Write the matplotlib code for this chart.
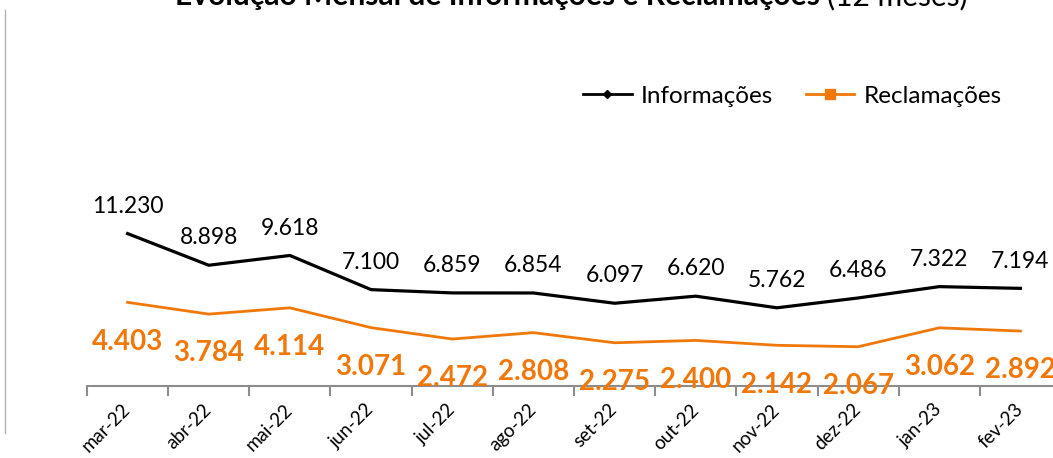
import matplotlib
matplotlib.use("Agg")
import matplotlib.pyplot as plt
from matplotlib.lines import Line2D

plt.rcParams['font.family'] = ['Lato', 'DejaVu Sans']

# dados (12 meses)
meses = ['mar-22', 'abr-22', 'mai-22', 'jun-22', 'jul-22', 'ago-22',
         'set-22', 'out-22', 'nov-22', 'dez-22', 'jan-23', 'fev-23']
informacoes = [11230, 8898, 9618, 7100, 6859, 6854, 6097, 6620, 5762, 6486, 7322, 7194]
reclamacoes = [4403, 3784, 4114, 3071, 2472, 2808, 2275, 2400, 2142, 2067, 3062, 2892]

laranja = '#F0780A'
W, H = 1053, 458

fig = plt.figure(figsize=(W / 100, H / 100), dpi=100)
# area do grafico (sai um pouco pela direita, como no original)
ax = fig.add_axes([87 / W, 72 / H, 974 / W, 190 / H])
ax2 = ax.twinx()

x = list(range(len(meses)))
ax.plot(x, informacoes, color='black', lw=2.3)
ax2.plot(x, reclamacoes, color=laranja, lw=2.0)

ax.set_xlim(-0.5, len(meses) - 0.5)
ax.set_ylim(0, 14000)
ax2.set_ylim(0, 10000)

for a in (ax, ax2):
    for s in ('top', 'right', 'left'):
        a.spines[s].set_visible(False)
    a.set_yticks([])
ax2.spines['bottom'].set_visible(False)
ax.spines['bottom'].set_color('#8c8c8c')
ax.spines['bottom'].set_linewidth(1.5)

ax.set_xticks(x)
ax.set_xticklabels(meses, rotation=45, ha='right', va='center',
                   rotation_mode='anchor', fontsize=13.5)
ax.tick_params(axis='x', which='major', length=0, pad=15)
ax.set_xticks([i - 0.5 for i in range(len(meses) + 1)], minor=True)
ax.tick_params(axis='x', which='minor', length=7, width=1.5, color='#8c8c8c')

# rotulos de dados
for i, v in enumerate(informacoes):
    ax.annotate(f'{v:,}'.replace(',', '.'), (i, v), xytext=(0, 15),
                textcoords='offset points', ha='center', va='baseline',
                fontsize=16.5, color='black')
for i, v in enumerate(reclamacoes):
    ax2.annotate(f'{v:,}'.replace(',', '.'), (i, v), xytext=(0, -34),
                 textcoords='offset points', ha='center', va='baseline',
                 fontsize=20, fontweight='bold', color=laranja)

# legenda
handles = [Line2D([], [], color='black', lw=2, marker='D', markersize=4),
           Line2D([], [], color=laranja, lw=2, marker='s', markersize=7)]
fig.legend(handles, ['Informações', 'Reclamações'], loc='center left',
           bbox_to_anchor=(583 / W, 1 - 96 / H), ncol=2, frameon=False,
           fontsize=17.5, handlelength=2.0, handletextpad=0.37,
           columnspacing=1.35, borderpad=0, borderaxespad=0)

# titulo (cortado no topo)
fig.canvas.draw()
r = fig.canvas.get_renderer()
t1 = fig.text(175 / W, 1 - 5 / H, 'Evolução Mensal de Informações e Reclamações ',
              fontsize=20, fontweight='bold', va='baseline', ha='left')
t2 = fig.text(0, 1 - 5 / H, '(12 meses)', fontsize=20, va='baseline', ha='left')
w1 = t1.get_window_extent(r).width
w2 = t2.get_window_extent(r).width
s = 20 * 790 / (w1 + w2)
t1.set_fontsize(s)
t2.set_fontsize(s)
w1 = t1.get_window_extent(r).width
t2.set_x((175 + w1) / W)

# linha vertical a esquerda
fig.add_artist(Line2D([5 / W, 5 / W], [1 - 10 / H, 1 - 433 / H],
                      color='#b0b0b0', lw=1))

fig.savefig('out.png', dpi=100)
